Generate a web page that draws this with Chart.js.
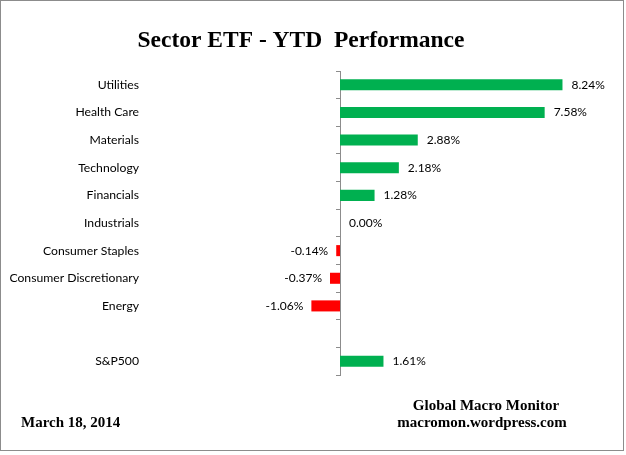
<!DOCTYPE html>
<html>
<head>
<meta charset="utf-8">
<script src="https://cdn.jsdelivr.net/npm/chart.js@4/dist/chart.umd.min.js"></script>
<style>
html,body{margin:0;padding:0;background:#fff;}
#wrap{width:626px;height:455px;position:relative;}
</style>
</head>
<body>
<div id="wrap"><canvas id="c" width="626" height="455"></canvas></div>
<script>
const categories = ["Utilities","Health Care","Materials","Technology","Financials","Industrials","Consumer Staples","Consumer Discretionary","Energy","","S&P500"];
const values = [8.24, 7.58, 2.88, 2.18, 1.28, 0.00, -0.14, -0.37, -1.06, null, 1.61];
const labelTexts = ["8.24%","7.58%","2.88%","2.18%","1.28%","0.00%","-0.14%","-0.37%","-1.06%","","1.61%"];
const titleText = "Sector ETF - YTD  Performance";
const dateText = "March 18, 2014";
const sourceLines = ["Global Macro Monitor","macromon.wordpress.com"];

const labelFont = '12px Lato, "Open Sans", sans-serif';

const decor = {
  id:'decor',
  beforeDraw(chart){
    const ctx = chart.ctx;
    ctx.save();
    ctx.fillStyle = '#fff';
    ctx.fillRect(0,0,chart.width,chart.height);
    ctx.strokeStyle = '#8c8c8c';
    ctx.lineWidth = 1;
    ctx.strokeRect(0.5,0.5,623,450);
    ctx.restore();
  },
  afterDraw(chart){
    const ctx = chart.ctx;
    ctx.save();
    ctx.fillStyle = '#000';
    ctx.textBaseline = 'alphabetic';
    ctx.textAlign = 'center';
    ctx.font = 'bold 23.5px "Liberation Serif", serif';
    ctx.fillText(titleText, 301, 47);
    ctx.font = 'bold 15px "Liberation Serif", serif';
    ctx.textAlign = 'left';
    ctx.fillText(dateText, 21, 427);
    ctx.textAlign = 'center';
    ctx.fillText(sourceLines[0], 486, 410);
    ctx.fillText(sourceLines[1], 482, 427);
    // data labels
    const meta = chart.getDatasetMeta(0);
    const xs = chart.scales.x;
    const zero = xs.getPixelForValue(0);
    ctx.font = labelFont;
    ctx.textBaseline = 'middle';
    meta.data.forEach((bar, i) => {
      const v = values[i];
      if (v === null || v === undefined) return;
      const y = bar.y;
      if (v >= 0) {
        ctx.textAlign = 'left';
        ctx.fillText(labelTexts[i], Math.max(bar.x, zero) + 9, y);
      } else {
        ctx.textAlign = 'right';
        ctx.fillText(labelTexts[i], bar.x - 8, y);
      }
    });
    ctx.restore();
  }
};

new Chart(document.getElementById('c'), {
  type: 'bar',
  data: {
    labels: categories,
    datasets: [{
      data: values,
      backgroundColor: values.map(v => (v !== null && v < 0) ? '#ff0000' : '#00b050'),
      borderWidth: 0,
      categoryPercentage: 1,
      barPercentage: 0.4
    }]
  },
  options: {
    indexAxis: 'y',
    responsive: false,
    animation: false,
    devicePixelRatio: 1,
    layout: { padding: { top: 71, bottom: 80, left: 0, right: 43 } },
    plugins: { legend: { display: false }, tooltip: { enabled: false }, title: { display: false } },
    scales: {
      x: {
        type: 'linear', min: -7, max: 9, display: false
      },
      y: {
        type: 'category',
        position: 'left',
        offset: true,
        afterFit(s){ s.width = 151; },
        grid: { display: false, drawTicks: false },
        border: { display: false },
        ticks: { color: '#000', padding: 12, font: { family: 'Lato, "Open Sans", sans-serif', size: 12.2 } }
      },
      y2: {
        type: 'category',
        axis: 'y',
        position: { x: 0 },
        offset: true,
        grid: { offset: true, drawOnChartArea: false, drawTicks: true, tickLength: 4, color: '#8c8c8c', lineWidth: 1 },
        border: { display: true, color: '#8c8c8c', width: 1 },
        ticks: { display: false }
      }
    }
  },
  plugins: [decor]
});
</script>
</body>
</html>
